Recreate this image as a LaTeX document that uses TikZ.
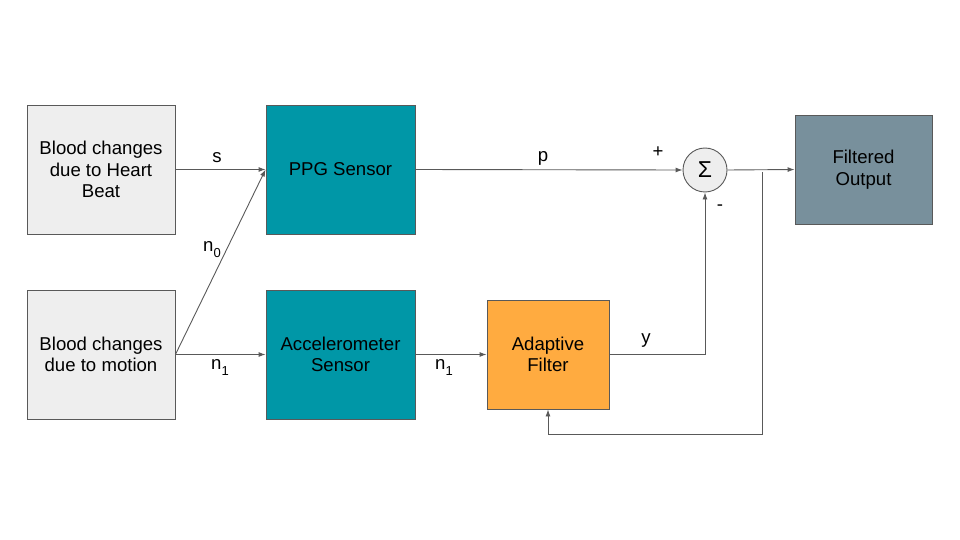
\documentclass[tikz,border=0pt]{standalone}
\usepackage{fontspec}
\setmainfont{Liberation Sans}
\usetikzlibrary{positioning}
\usetikzlibrary{arrows.meta}
\definecolor{boxgray}{HTML}{EEEEEE}
\definecolor{sensteal}{HTML}{0097A7}
\definecolor{filtorange}{HTML}{FFAB40}
\definecolor{outslate}{HTML}{78909C}
\definecolor{linegray}{HTML}{595959}

\newcommand{\lowsub}[1]{\raisebox{-6pt}{\fontsize{13}{13}\selectfont #1}}

\tikzset{
  blk/.style={draw=linegray, line width=0.9pt, align=center, inner sep=0pt,
    font=\fontsize{18.6}{21.5}\selectfont},
  wire/.style={draw=linegray, line width=0.9pt},
  arr/.style={wire, -{Latex[length=7pt,width=5pt]}},
  lbl/.style={font=\fontsize{18.6}{21.5}\selectfont}
}

\begin{document}
\begin{tikzpicture}[x=1pt,y=-1pt]

\useasboundingbox (0,0) rectangle (960,540);

% blocks
\node[blk, fill=boxgray, minimum width=148pt, minimum height=129pt] (heart) at (101,169.5) {Blood changes\\due to Heart\\Beat};
\node[blk, fill=boxgray, minimum width=148pt, minimum height=129pt] (motion) at (101,354.5) {Blood changes\\due to motion};
\node[blk, fill=sensteal, minimum width=149pt, minimum height=129pt] (ppg) at (340.5,169.5) {PPG Sensor};
\node[blk, fill=sensteal, minimum width=149pt, minimum height=129pt] (accel) at (340.5,354.5) {Accelerometer\\Sensor};
\node[blk, fill=filtorange, minimum width=122pt, minimum height=109pt] (adapt) at (548,354.5) {Adaptive\\Filter};
\node[blk, fill=boxgray, circle, minimum size=44pt, font=\fontsize{23}{23}\selectfont] (sum) at (705,170) {Σ};
\node[blk, fill=outslate, minimum width=137pt, minimum height=109pt] (out) at (863.5,169.5) {Filtered\\Output};

\coordinate (fb) at (762,172);
\coordinate (fbturn) at (762,434);

% connectors
\draw[arr] (heart.east) -- (ppg.west);
\draw[arr] (motion.east) -- (ppg.west);
\draw[arr] (motion.east) -- (accel.west);
\draw[arr] (accel.east) -- (adapt.west);
\draw[arr] (ppg.east) -- (sum.west);
\draw[arr] (adapt.east) -| (sum.south);
\draw[arr] (sum.east) -- (out.west);
\draw[arr] (fb) -- (fbturn) -| (adapt.south);

% labels
\node[lbl] (ls) at (217,158) {s};
\node[lbl] (ln0) at (212,250) {n\lowsub{0}};
\node[lbl] (ln1a) at (220,367) {n\lowsub{1}};
\node[lbl] (ln1b) at (444,367) {n\lowsub{1}};
\node[lbl] (lp) at (543,158) {p};
\node[lbl] (lplus) at (658,152) {+};
\node[lbl] (lminus) at (720,208) {-};
\node[lbl] (ly) at (646,341) {y};

\end{tikzpicture}
\end{document}
